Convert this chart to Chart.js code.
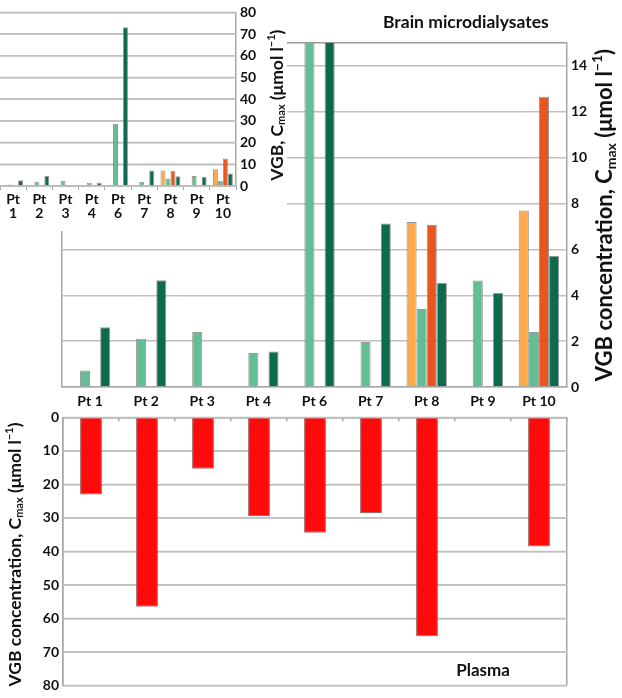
<!DOCTYPE html>
<html>
<head>
<meta charset="utf-8">
<script src="https://cdn.jsdelivr.net/npm/chart.js@4.4.1/dist/chart.umd.min.js"></script>
<style>
  html, body { margin: 0; padding: 0; background: #fff; }
  #wrap { position: relative; width: 622px; height: 698px; overflow: hidden; }
  canvas { position: absolute; }
  #main { left: 0; top: 0; }
  #insetBox { position: absolute; left: 0; top: 0; width: 287px; height: 231px; background: #fff; }
  #inset { left: 0; top: 0; }
  #plasma { left: 0; top: 405px; }
</style>
</head>
<body>
<div id="wrap">
  <canvas id="main" width="622" height="418"></canvas>
  <div id="insetBox">
    <canvas id="inset" width="287" height="231"></canvas>
  </div>
  <canvas id="plasma" width="622" height="293"></canvas>
</div>
<script>
Chart.defaults.font.family = 'Lato, "Open Sans", sans-serif';
Chart.defaults.font.weight = 'bold';
Chart.defaults.font.size = 14;
Chart.defaults.color = '#111';

const orange = '#fba84f';
const lightGreen = '#63be96';
const redOrange = '#e9551f';
const darkGreen = '#0b6a4f';
const plasmaRed = '#ff0a0a';
const gridGrey = '#c0c0c0';
const frameGrey = '#a8a8a8';

// data (umol/l)
const categories = ['Pt 1', 'Pt 2', 'Pt 3', 'Pt 4', 'Pt 6', 'Pt 7', 'Pt 8', 'Pt 9', 'Pt 10'];
const brainOrange = [null, null, null, null, null, null, 7.2, null, 7.7];
const brainLight = [0.72, 2.1, 2.4, 1.48, 28.6, 1.96, 3.4, 4.64, 2.4];
const brainRed = [null, null, null, null, null, null, 7.06, null, 12.66];
const brainDark = [2.61, 4.66, null, 1.55, 73.2, 7.13, 4.53, 4.1, 5.72];
const plasmaValues = [23, 56.5, 15.3, 29.4, 34.4, 28.5, 65.3, null, 38.5];

const brainTicks = [0, 2, 4, 6, 8, 10, 12, 14];
const brainMax = 15;
const insetTicks = [0, 10, 20, 30, 40, 50, 60, 70, 80];
const plasmaTicks = [0, 10, 20, 30, 40, 50, 60, 70, 80];

// axis titles with C_max and l^-1
const concTitle = [{ t: 'VGB concentration, C' }, { t: 'max', sub: true }, { t: ' (μmol l' }, { t: '−1', sup: true }, { t: ')' }];
const insetTitle = [{ t: 'VGB, C' }, { t: 'max', sub: true }, { t: ' (μmol l' }, { t: '−1', sup: true }, { t: ')' }];

function drawRich(ctx, parts, x, y, size, angle, align) {
  const small = Math.round(size * 0.65);
  const fontFor = function(p) {
    return 'bold ' + (p.sub || p.sup ? small : size) + 'px Lato, "Open Sans", sans-serif';
  };
  ctx.save();
  ctx.translate(x, y);
  ctx.rotate(angle);
  ctx.fillStyle = '#111';
  ctx.textAlign = 'left';
  ctx.textBaseline = 'middle';
  let total = 0;
  parts.forEach(function(p) { ctx.font = fontFor(p); total += ctx.measureText(p.t).width; });
  let cx = align === 'left' ? 0 : -total / 2;
  parts.forEach(function(p) {
    ctx.font = fontFor(p);
    const dy = p.sub ? size * 0.28 : (p.sup ? -size * 0.32 : 0);
    ctx.fillText(p.t, cx, dy);
    cx += ctx.measureText(p.t).width;
  });
  ctx.restore();
}

function titles(draw) {
  return { id: 'titles', afterDraw: function(chart) { draw(chart.ctx, chart.chartArea); } };
}

// horizontal value lines under the bars, placed by the y scale
const valueLines = {
  id: 'valueLines',
  beforeDatasetsDraw: function(chart) {
    const ctx = chart.ctx;
    const a = chart.chartArea;
    const y = chart.scales.y;
    ctx.save();
    ctx.strokeStyle = gridGrey;
    ctx.lineWidth = 1.5;
    y.ticks.forEach(function(t) {
      const py = y.getPixelForValue(t.value);
      ctx.beginPath();
      ctx.moveTo(a.left, py);
      ctx.lineTo(a.right, py);
      ctx.stroke();
    });
    ctx.restore();
  }
};

function brainDatasets() {
  const edge = 'rgba(110,110,100,0.7)';
  return [
    { data: brainOrange, backgroundColor: orange, borderColor: edge, borderWidth: 1, clip: 0 },
    { data: brainLight, backgroundColor: lightGreen, borderColor: edge, borderWidth: 1, clip: 0 },
    { data: brainRed, backgroundColor: redOrange, borderColor: edge, borderWidth: 1, clip: 0 },
    { data: brainDark, backgroundColor: darkGreen, borderColor: edge, borderWidth: 1, clip: 0 }
  ];
}

// outer frame lines only: first boundary and the closing one (scale context)
function edgeOnly(ctx) {
  return (ctx.type !== 'tick' || ctx.index === 0) ? frameGrey : 'transparent';
}
function valueGrid(ctx) {
  return ctx.tick && ctx.tick.value === brainMax ? '#999' : gridGrey;
}
function plainLabel(value) { return value; }

// 1. Plasma (downward axis)
new Chart(document.getElementById('plasma'), {
  type: 'bar',
  data: {
    labels: categories.slice(),
    datasets: [{
      data: plasmaValues,
      backgroundColor: plasmaRed,
      borderColor: 'rgba(140,60,60,0.8)',
      borderWidth: 1,
      barPercentage: 0.39,
      categoryPercentage: 1
    }]
  },
  options: {
    responsive: false,
    animation: false,
    layout: { padding: { left: 0, top: 0, right: 55, bottom: 10 } },
    plugins: { legend: { display: false }, tooltip: { enabled: false } },
    scales: {
      x: {
        position: 'top',
        ticks: { display: false },
        grid: { color: edgeOnly, tickColor: frameGrey, tickLength: -4, lineWidth: 1.5 },
        border: { color: frameGrey, width: 1.5 },
        afterFit: function(scale) { scale.height = 12; }
      },
      y: {
        position: 'left',
        reverse: true,
        min: 0,
        max: 80,
        afterBuildTicks: function(scale) {
          scale.ticks = plasmaTicks.map(function(v) { return { value: v }; });
        },
        ticks: { padding: 4, callback: plainLabel },
        grid: { color: valueGrid, lineWidth: 1.5, drawTicks: false },
        border: { color: frameGrey, width: 1.5 },
        afterFit: function(scale) { scale.width = 63; }
      }
    }
  },
  plugins: [valueLines, titles(function(ctx, a) {
    drawRich(ctx, concTitle, a.left - 48, (a.top + a.bottom) / 2 + 3, 17.5, -Math.PI / 2);
    drawRich(ctx, [{ t: 'Plasma' }], a.right - 84, a.bottom - 15, 17, 0);
  })]
});

// 2. Brain microdialysates (main, cut at 15)
new Chart(document.getElementById('main'), {
  type: 'bar',
  data: { labels: categories.slice(), datasets: brainDatasets() },
  options: {
    responsive: false,
    animation: false,
    layout: { padding: { left: 62, top: 43, right: 0, bottom: 0 } },
    datasets: { bar: { categoryPercentage: 0.72, barPercentage: 1 } },
    plugins: { legend: { display: false }, tooltip: { enabled: false } },
    scales: {
      x: {
        grid: {
          color: function(ctx) { return ctx.type === 'tick' && ctx.index === 0 ? frameGrey : 'transparent'; },
          lineWidth: 1.5,
          drawTicks: false
        },
        border: { color: frameGrey, width: 1.5 },
        ticks: { padding: 6, maxRotation: 0, autoSkip: false },
        afterFit: function(scale) { scale.height = 31; }
      },
      y: {
        position: 'right',
        min: 0,
        max: brainMax,
        afterBuildTicks: function(scale) {
          scale.ticks = brainTicks.concat([brainMax]).map(function(v) { return { value: v }; });
        },
        ticks: {
          padding: 4,
          callback: function(value) { return value === brainMax ? '' : value; }
        },
        grid: { color: valueGrid, lineWidth: 1.5, drawTicks: false },
        border: { color: frameGrey, width: 1.5 },
        afterFit: function(scale) { scale.width = 55; }
      }
    }
  },
  plugins: [titles(function(ctx, a) {
    drawRich(ctx, concTitle, a.right + 38, (a.top + a.bottom) / 2, 22, -Math.PI / 2);
    drawRich(ctx, [{ t: 'Brain microdialysates' }], a.right - 184, a.top - 21, 17.5, 0, 'left');
  })]
});

// 3. Inset with full range
new Chart(document.getElementById('inset'), {
  type: 'bar',
  data: {
    labels: categories.map(function(c) { return c.split(' '); }),
    datasets: brainDatasets()
  },
  options: {
    responsive: false,
    animation: false,
    layout: { padding: { left: 0, top: 7, right: 0, bottom: 0 } },
    datasets: { bar: { categoryPercentage: 0.76, barPercentage: 1 } },
    plugins: { legend: { display: false }, tooltip: { enabled: false } },
    scales: {
      x: {
        grid: { drawOnChartArea: false, tickLength: 4, tickColor: frameGrey, lineWidth: 1 },
        border: { color: frameGrey, width: 1.5 },
        ticks: { padding: 2, maxRotation: 0, autoSkip: false, font: { size: 14, lineHeight: 1.0 } },
        afterFit: function(scale) { scale.height = 45; }
      },
      y: {
        position: 'right',
        min: 0,
        max: 80,
        afterBuildTicks: function(scale) {
          scale.ticks = insetTicks.map(function(v) { return { value: v }; });
        },
        ticks: { padding: 4, callback: plainLabel },
        grid: { color: valueGrid, lineWidth: 1.5, drawTicks: false },
        border: { color: frameGrey, width: 1.5 },
        afterFit: function(scale) { scale.width = 51; }
      }
    }
  },
  plugins: [valueLines, titles(function(ctx, a) {
    drawRich(ctx, insetTitle, a.right + 41, (a.top + a.bottom) / 2 + 6, 17.5, -Math.PI / 2);
  })]
});
</script>
</body>
</html>
